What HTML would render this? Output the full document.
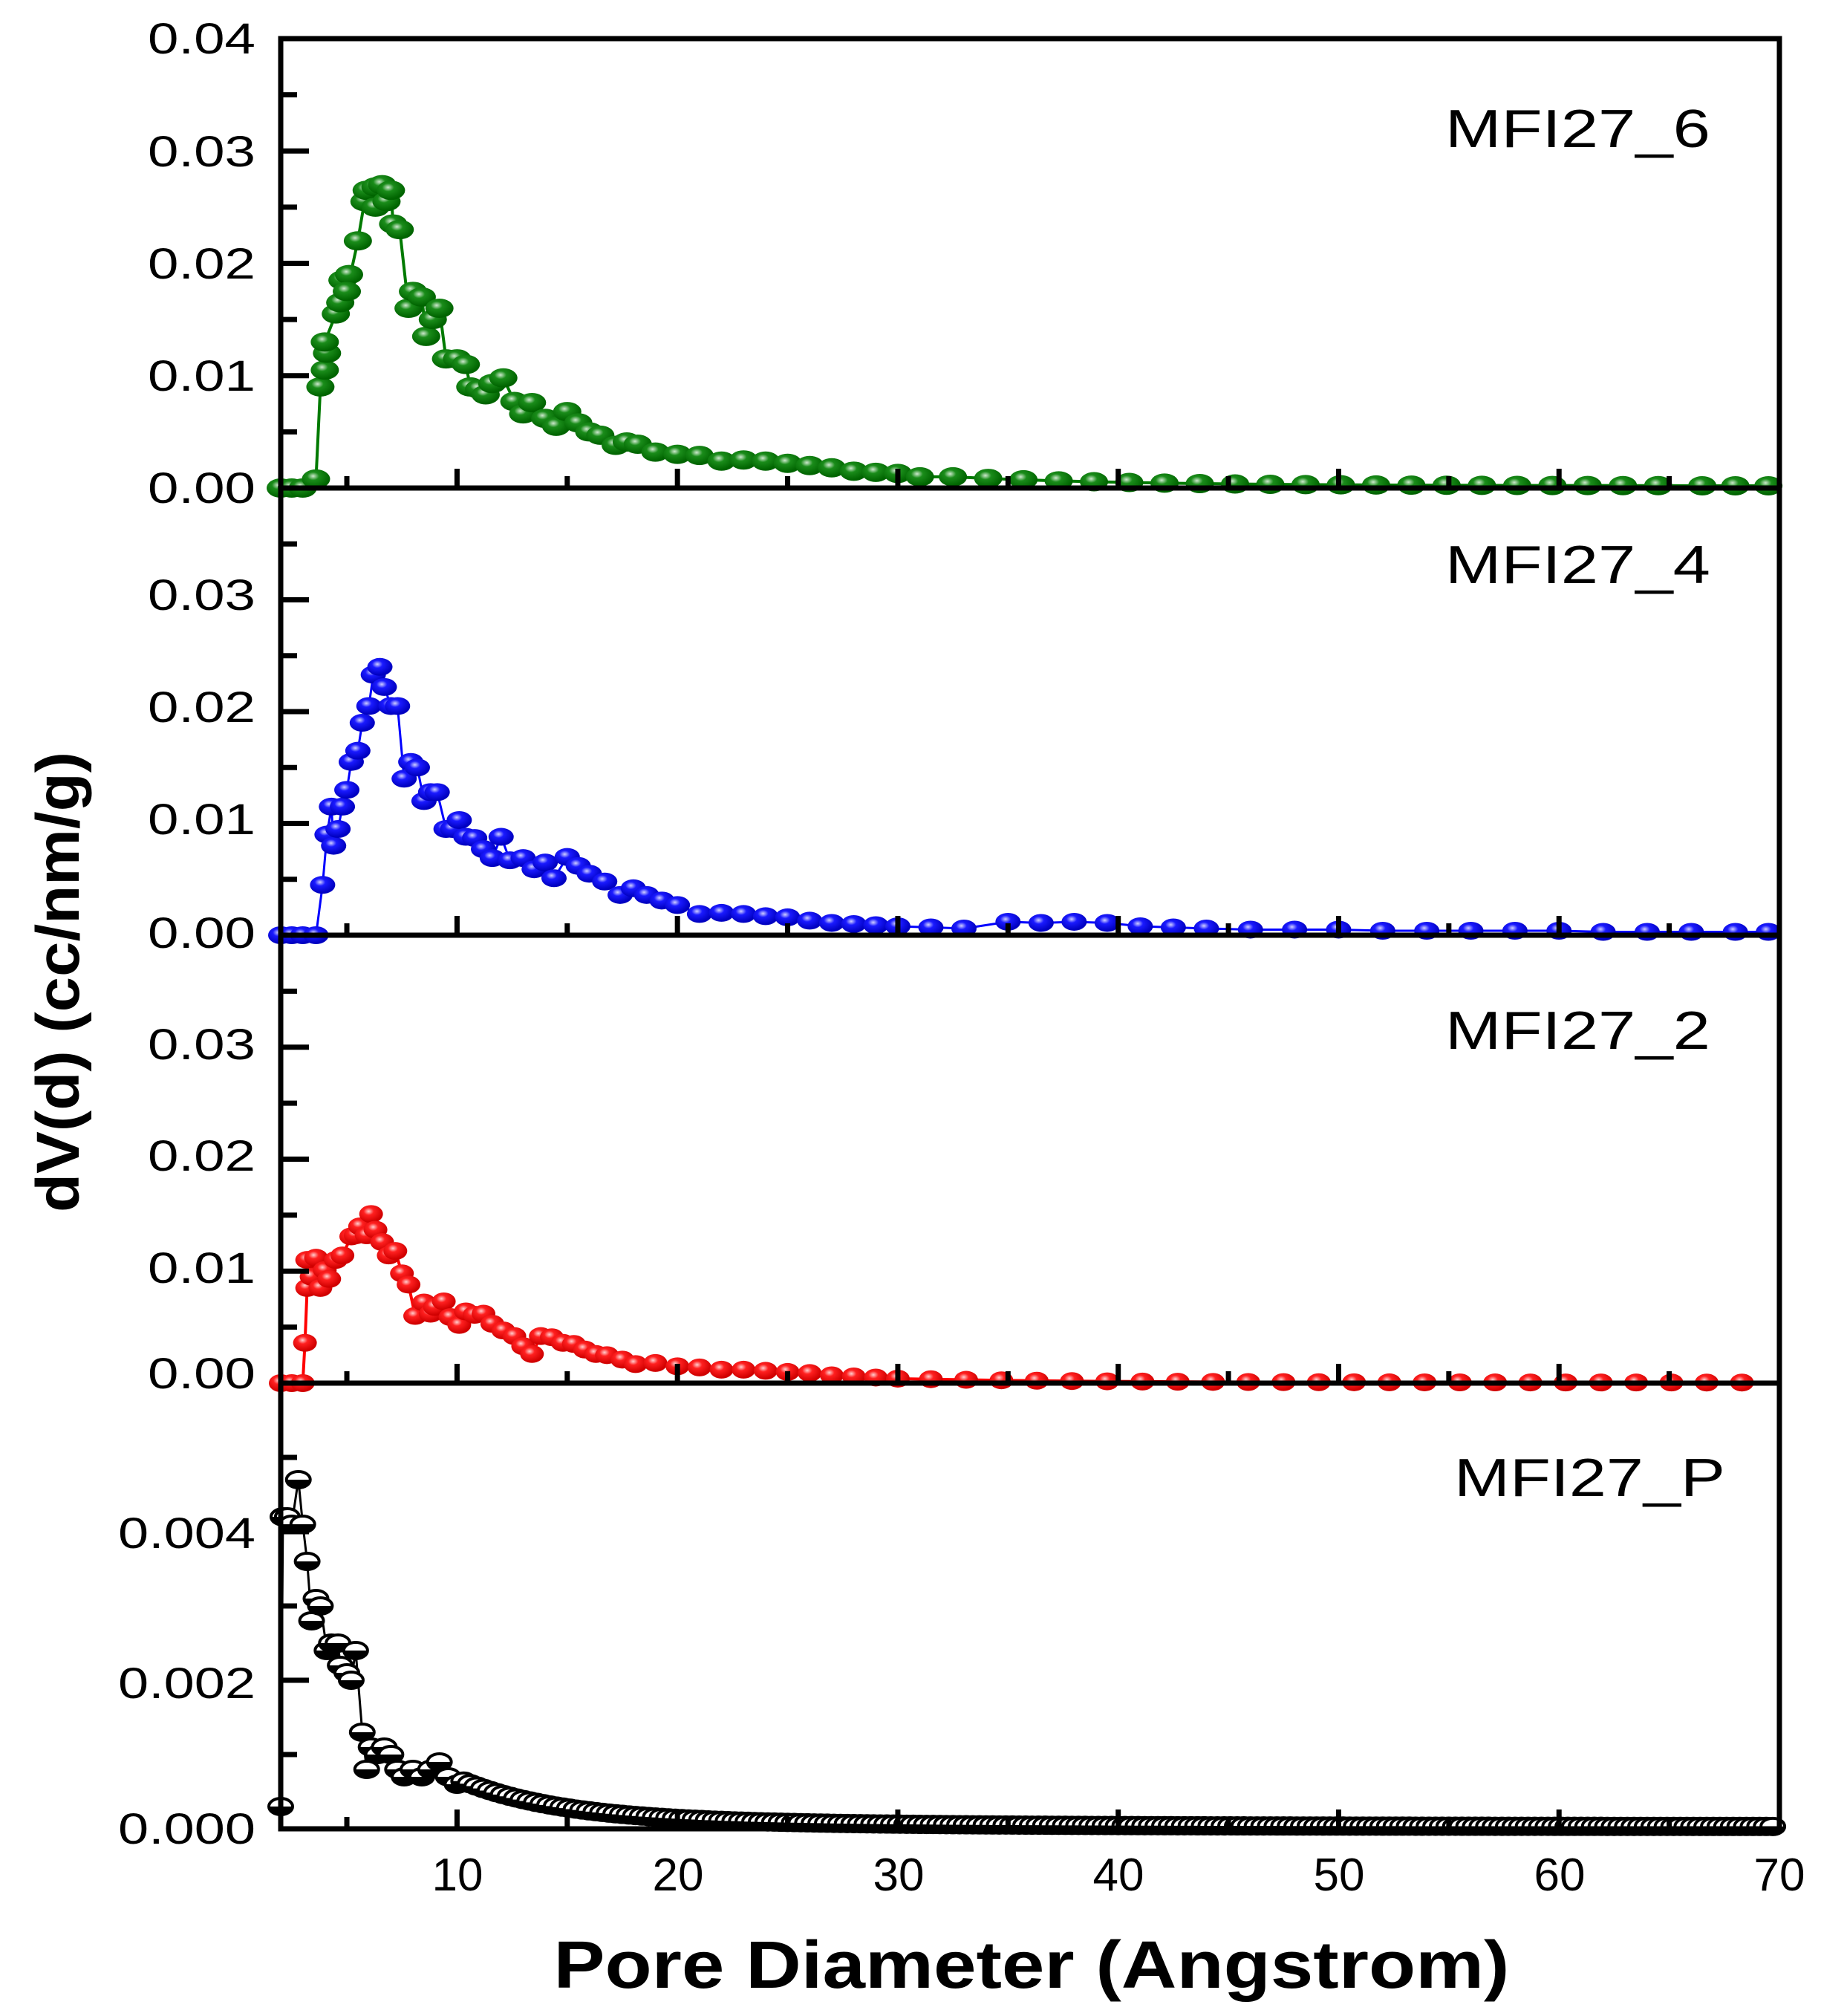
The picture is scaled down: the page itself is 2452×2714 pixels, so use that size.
<!DOCTYPE html>
<html><head><meta charset="utf-8"><style>
html,body{margin:0;padding:0;background:#fff}
svg{display:block}
text{font-family:"Liberation Sans",Arial,sans-serif}
</style></head><body>
<svg id="s" width="2452" height="2714" viewBox="0 0 2452 2714" xmlns="http://www.w3.org/2000/svg">
<defs>
<radialGradient id="gG" cx="0.4" cy="0.35" r="0.6"><stop offset="0" stop-color="#cfe9cf"/><stop offset="0.35" stop-color="#1a8c1a"/><stop offset="1" stop-color="#006400"/></radialGradient>
<radialGradient id="gB" cx="0.4" cy="0.35" r="0.6"><stop offset="0" stop-color="#d0d0ff"/><stop offset="0.35" stop-color="#1a1aff"/><stop offset="1" stop-color="#0000c0"/></radialGradient>
<radialGradient id="gR" cx="0.4" cy="0.35" r="0.6"><stop offset="0" stop-color="#ffd0d0"/><stop offset="0.35" stop-color="#ff2020"/><stop offset="1" stop-color="#d00000"/></radialGradient>
</defs>
<g id="data"></g>
<g id="axes" stroke="#000" stroke-width="7" fill="none"></g>
<g font-size="58" text-anchor="end">
<text x="344" y="72" textLength="145" lengthAdjust="spacingAndGlyphs">0.04</text>
<text x="344" y="224" textLength="145" lengthAdjust="spacingAndGlyphs">0.03</text>
<text x="344" y="375" textLength="145" lengthAdjust="spacingAndGlyphs">0.02</text>
<text x="344" y="526" textLength="145" lengthAdjust="spacingAndGlyphs">0.01</text>
<text x="344" y="677" textLength="145" lengthAdjust="spacingAndGlyphs">0.00</text>
<text x="344" y="821" textLength="145" lengthAdjust="spacingAndGlyphs">0.03</text>
<text x="344" y="972" textLength="145" lengthAdjust="spacingAndGlyphs">0.02</text>
<text x="344" y="1123" textLength="145" lengthAdjust="spacingAndGlyphs">0.01</text>
<text x="344" y="1276" textLength="145" lengthAdjust="spacingAndGlyphs">0.00</text>
<text x="344" y="1426" textLength="145" lengthAdjust="spacingAndGlyphs">0.03</text>
<text x="344" y="1576" textLength="145" lengthAdjust="spacingAndGlyphs">0.02</text>
<text x="344" y="1727" textLength="145" lengthAdjust="spacingAndGlyphs">0.01</text>
<text x="344" y="1869" textLength="145" lengthAdjust="spacingAndGlyphs">0.00</text>
<text x="344" y="2084" textLength="185" lengthAdjust="spacingAndGlyphs">0.004</text>
<text x="344" y="2286" textLength="185" lengthAdjust="spacingAndGlyphs">0.002</text>
<text x="344" y="2482" textLength="185" lengthAdjust="spacingAndGlyphs">0.000</text>
</g>
<g font-size="62" text-anchor="middle">
<text x="616" y="2545">10</text><text x="913" y="2545">20</text><text x="1210" y="2545">30</text>
<text x="1506" y="2545">40</text><text x="1803" y="2545">50</text><text x="2100" y="2545">60</text><text x="2396" y="2545">70</text>
</g>
<g font-size="72">
<text x="1946" y="198" textLength="357" lengthAdjust="spacingAndGlyphs">MFI27_6</text>
<text x="1946" y="785" textLength="357" lengthAdjust="spacingAndGlyphs">MFI27_4</text>
<text x="1946" y="1412" textLength="357" lengthAdjust="spacingAndGlyphs">MFI27_2</text>
<text x="1958" y="2014" textLength="365" lengthAdjust="spacingAndGlyphs">MFI27_P</text>
</g>
<text x="1389" y="2676" font-size="90" font-weight="bold" text-anchor="middle" textLength="1287" lengthAdjust="spacingAndGlyphs">Pore Diameter (Angstrom)</text>
<text transform="translate(106,1322) rotate(-90)" font-size="82" font-weight="bold" text-anchor="middle" textLength="620" lengthAdjust="spacingAndGlyphs">dV(d) (cc/nm/g)</text>
</svg>
<script>
const NS="http://www.w3.org/2000/svg";
const L=378,R=2396;
const tops=[52,657,1259,1862],bots=[657,1259,1862,2462],ymax=[0.04,0.04,0.04,0.006];
const X=x=>L+(x-2)*(R-L)/68;
function el(t,a,p){const e=document.createElementNS(NS,t);for(const k in a)e.setAttribute(k,a[k]);p.appendChild(e);return e;}
const ax=document.getElementById('axes');
el('rect',{x:L,y:52,width:R-L,height:2462-52},ax);
for(let i=1;i<4;i++)el('line',{x1:L,y1:bots[i-1],x2:R,y2:bots[i-1]},ax);
for(let p=0;p<4;p++){
 const b=bots[p],t=tops[p],h=b-t;
 for(let v=5;v<70;v+=5){const maj=v%10==0;el('line',{x1:X(v),y1:b,x2:X(v),y2:b-(maj?26:16)},ax);}
 const step=p<3?0.005:0.001;
 for(let k=1;k*step<ymax[p]-1e-9;k++){const maj=k%2==0;const y=b-k*step/ymax[p]*h;el('line',{x1:L,y1:y,x2:L+(maj?38:22),y2:y},ax);}
}
function tail(arr,x0,y0,x1,y1,st){for(let x=x0;x<=x1;x+=st){arr.push([x,y0*Math.exp(-(x-x0)/8)+y1]);}}
const green=[[2,0],[2.5,0],[3,0],[3.6,0.0008],[3.8,0.009],[4.0,0.0105],[4.1,0.012],[4.0,0.013],[4.5,0.0155],[4.7,0.0165],[4.8,0.0185],[5.1,0.019],[5.0,0.0175],[5.5,0.022],[5.8,0.0255],[5.9,0.0265],[6.3,0.025],[6.3,0.0268],[6.6,0.027],[6.8,0.0255],[7.0,0.0265],[7.1,0.0235],[7.4,0.023],[7.8,0.016],[8.0,0.0175],[8.4,0.017],[8.6,0.0135],[8.9,0.015],[9.2,0.016],[9.5,0.0115],[10,0.0115],[10.4,0.011],[10.6,0.009],[11,0.0088],[11.3,0.0083],[11.6,0.0093],[12.1,0.0098],[12.6,0.0077],[13.0,0.0066],[13.4,0.0076],[14.0,0.0062],[14.5,0.0055],[15.0,0.0068],[15.5,0.0058],[16,0.005],[16.5,0.0047],[17.2,0.0038],[17.7,0.0041],[18.2,0.0039],[19,0.0032],[20,0.003],[21,0.0029],[22,0.0024],[23,0.0025],[24,0.0024],[25,0.0022],[26,0.002],[27,0.0018],[28,0.0015],[29,0.0014],[30,0.0013],[31,0.001]];
tail(green,32.5,0.0008,65,0.0002,1.6);[[66.5,0.0002],[68,0.0002],[69.5,0.0002]].forEach(a=>green.push(a));
const blue=[[2,0],[2.5,0],[3,0],[3.6,0],[3.9,0.0045],[4.1,0.009],[4.3,0.0115],[4.4,0.008],[4.6,0.0095],[4.8,0.0115],[5,0.013],[5.2,0.0155],[5.5,0.0165],[5.7,0.019],[6.0,0.0205],[6.2,0.0233],[6.5,0.024],[6.7,0.0222],[7.0,0.0205],[7.3,0.0205],[7.6,0.014],[7.9,0.0155],[8.2,0.015],[8.5,0.012],[8.8,0.0128],[9.1,0.0128],[9.5,0.0095],[9.8,0.0095],[10.1,0.0103],[10.4,0.0088],[10.8,0.0087],[11.2,0.0077],[11.6,0.0069],[12,0.0088],[12.4,0.0067],[13,0.0069],[13.5,0.0059],[14,0.0065],[14.4,0.0051],[15,0.007],[15.5,0.0062],[16,0.0055],[16.7,0.0048],[17.4,0.0036],[18,0.0042],[18.6,0.0036],[19.3,0.0031],[20,0.0027],[21,0.0019],[22,0.002],[23,0.0019],[24,0.0017],[25,0.0016],[26,0.0013],[27,0.0011],[28,0.001],[29,0.0009],[30,0.0008],[31.5,0.0007],[33,0.0006],[35,0.0012],[36.5,0.0011],[38,0.0012],[39.5,0.0011],[41,0.0008],[42.5,0.0007],[44,0.0006],[46,0.0005],[48,0.0005],[50,0.0005],[52,0.0004],[54,0.0004],[56,0.0004],[58,0.0004],[60,0.0004],[62,0.0003],[64,0.0003],[66,0.0003],[68,0.0003],[69.5,0.0003]];
const red=[[2,0],[2.5,0],[3.0,0],[3.1,0.0036],[3.2,0.0085],[3.2,0.011],[3.4,0.0095],[3.6,0.0112],[3.8,0.0085],[4.0,0.0101],[4.2,0.0093],[4.5,0.011],[4.8,0.0114],[5.2,0.0131],[5.4,0.0132],[5.6,0.014],[5.9,0.0132],[6.1,0.0151],[6.3,0.0137],[6.6,0.0126],[6.9,0.0114],[7.2,0.0118],[7.5,0.0098],[7.8,0.0088],[8.1,0.006],[8.5,0.0072],[8.8,0.0062],[9.0,0.0068],[9.4,0.0073],[9.7,0.0059],[10.1,0.0052],[10.4,0.0064],[10.8,0.0061],[11.2,0.0062],[11.6,0.0053],[12.1,0.0047],[12.6,0.0042],[13,0.0033],[13.4,0.0026],[13.8,0.0042],[14.3,0.0041],[14.8,0.0036],[15.3,0.0035],[15.8,0.003],[16.3,0.0026],[16.8,0.0025],[17.5,0.0021],[18.1,0.0017],[19,0.0018],[20,0.0015],[21,0.0014],[22,0.0012],[23,0.0012],[24,0.0011],[25,0.001],[26,0.0009],[27,0.0007],[28,0.0006],[29,0.0005],[30,0.0004]];
tail(red,31.5,0.0003,69.5,0.00005,1.6);
const black=[[2.0,0.0003],[2.1,0.0042],[2.3,0.0042],[2.5,0.0041],[2.8,0.0047],[3.0,0.0041],[3.2,0.0036],[3.4,0.0028],[3.6,0.0031],[3.8,0.003],[4.1,0.0024],[4.3,0.0025],[4.6,0.0025],[4.7,0.0022],[5.0,0.0021],[5.2,0.002],[5.4,0.0024],[5.7,0.0013],[5.9,0.0008],[6.1,0.0011],[6.4,0.001],[6.7,0.0011],[7.0,0.001],[7.3,0.0008],[7.6,0.0007],[8,0.0008],[8.4,0.0007],[8.8,0.0008],[9.2,0.0009],[9.6,0.0007],[10,0.0006]];
for(let x=10.3;x<=69.8;x+=0.3){black.push([x,0.00003+0.00055*Math.exp(-(x-10)/4.5)+0.0001*Math.exp(-(x-10)/15)]);}
const dg=document.getElementById('data');
function series(d,p,col,fill,rx,ry,sw){
 const b=bots[p],h=b-tops[p];
 const pts=d.map(([x,y])=>[X(x),b-y/ymax[p]*h]);
 el('polyline',{points:pts.map(q=>q.join(',')).join(' '),fill:'none',stroke:col,'stroke-width':sw},dg);
 pts.forEach(([x,y])=>{
  if(fill)el('ellipse',{cx:x,cy:y,rx:rx,ry:ry,fill:fill},dg);
  else{el('ellipse',{cx:x,cy:y,rx:rx,ry:ry,fill:'#fff',stroke:'#000','stroke-width':4},dg);
       el('path',{d:`M${x-rx},${y} A${rx},${ry} 0 0 0 ${x+rx},${y} Z`,fill:'#000'},dg);}
 });
}
series(green,0,'#007a00','url(#gG)',19,13,4);
series(blue,1,'#0000ff','url(#gB)',17,12,3);
series(red,2,'#ff0000','url(#gR)',16,12,4);
series(black,3,'#000','',16,11,3);
</script>
</body></html>
